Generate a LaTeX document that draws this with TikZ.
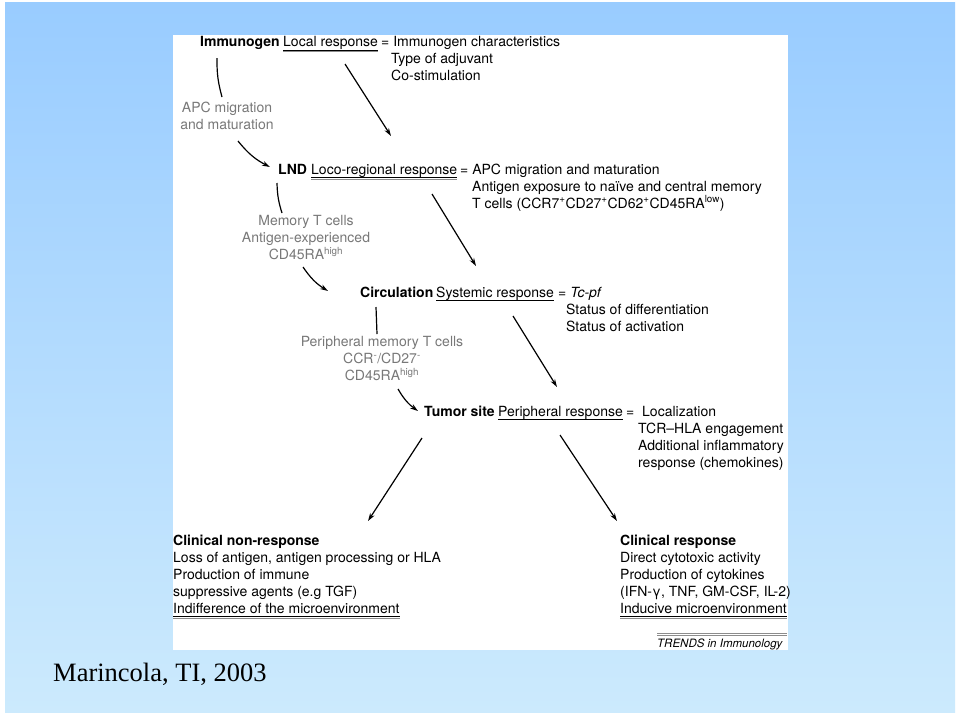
\documentclass[tikz,border=0pt]{standalone}
\usepackage{fontspec}
\setmainfont{TeX Gyre Heros}
\newfontfamily\timesfont{Liberation Serif}
\usetikzlibrary{arrows.meta}
\definecolor{bgtop}{RGB}{153,204,255}
\definecolor{bgbot}{RGB}{204,234,253}
\definecolor{softgrey}{RGB}{120,120,120}
\definecolor{linegrey}{RGB}{140,140,140}

\begin{document}
\begin{tikzpicture}[x=1pt,y=-1pt,
  txt/.style={anchor=base west,inner sep=0pt,font=\fontsize{14}{17}\selectfont},
  hd/.style={txt,font=\fontsize{14}{17}\selectfont\bfseries},
  grey/.style={inner sep=0pt,align=center,text=softgrey,font=\fontsize{14}{17}\selectfont},
  arr/.style={line width=1.2pt,-{Stealth[length=8pt,width=5pt]}},
  ln/.style={line width=1.2pt}]
        \useasboundingbox (0,0) rectangle (960,716);
        \fill[white] (0,0) rectangle (960,716);
        \shade[top color=bgtop,bottom color=bgbot] (5,2) rectangle (955,712);
        \fill[white] (173,35) rectangle (788,650);

        \node at (200,46.5) [hd] (immunogen) {Immunogen};
        \node at (283,46.5) [txt] (local) {Local response};
        \node at (381,46.5) [txt] (localeq) {= Immunogen characteristics};
        \node at (391,63.5) [txt] (adjuvant) {Type of adjuvant};
        \node at (391,80.5) [txt] (costim) {Co-stimulation};
        \draw[line width=0.7pt] ([yshift=-3.5pt]local.base west) -- ([yshift=-3.5pt]local.base east);
        \draw[line width=0.7pt,linegrey] ([yshift=-5.3pt]local.base west) -- ([yshift=-5.3pt]local.base east);

        \node at (227,116) [grey] (apc) {APC migration\\and maturation};

        \node at (278,174) [hd] (lnd) {LND};
        \node at (311,174) [txt] (loco) {Loco-regional response};
        \node at (460,174) [txt] (locoeq) {= APC migration and maturation};
        \node at (472,191) [txt] (exposure) {Antigen exposure to naïve and central memory};
        \node at (472,208) [txt] (tcells) {T cells (CCR7\textsuperscript{+}CD27\textsuperscript{+}CD62\textsuperscript{+}CD45RA\textsuperscript{low})};
        \draw[line width=0.7pt] ([yshift=-3.5pt]loco.base west) -- ([yshift=-3.5pt]loco.base east);
        \draw[line width=0.7pt,linegrey] ([yshift=-5.3pt]loco.base west) -- ([yshift=-5.3pt]loco.base east);

        \node at (306,238) [grey] (memory) {Memory T cells\\Antigen-experienced\\CD45RA\textsuperscript{high}};

        \node at (360,297) [hd] (circ) {Circulation};
        \node at (436,297) [txt] (systemic) {Systemic response};
        \node at (558,297) [txt] (systemiceq) {= \textit{Tc-pf}};
        \node at (566,314) [txt] (differ) {Status of differentiation};
        \node at (566,331) [txt] (activ) {Status of activation};
        \draw[line width=0.9pt] ([yshift=-3.5pt]systemic.base west) -- ([yshift=-3.5pt]systemic.base east);

        \node at (382,359) [grey] (periph) {Peripheral memory T cells\\CCR\textsuperscript{-}/CD27\textsuperscript{-}\\CD45RA\textsuperscript{high}};

        \node at (424,416) [hd] (tumor) {Tumor site};
        \node at (498,416) [txt] (peripheral) {Peripheral response};
        \node at (626,416) [txt] (periphq) {=};
        \node at (642,416) [txt] (local2) {Localization};
        \node at (638,433) [txt] (tcr) {TCR--HLA engagement};
        \node at (638,450) [txt] (addit) {Additional inflammatory};
        \node at (638,467) [txt] (chemo) {response (chemokines)};
        \draw[line width=0.9pt] ([yshift=-3.5pt]peripheral.base west) -- ([yshift=-3.5pt]peripheral.base east);

        \node at (173,545) [hd] (nonresp) {Clinical non-response};
        \node at (173,562) [txt] (loss) {Loss of antigen, antigen processing or HLA};
        \node at (173,579) [txt] (prodimm) {Production of immune};
        \node at (173,596) [txt] (suppr) {suppressive agents (e.g TGF)};
        \node at (173,613) [txt] (indiff) {Indifference of the microenvironment};
        \draw[line width=0.7pt] ([yshift=-3.5pt]indiff.base west) -- ([yshift=-3.5pt]indiff.base east);
        \draw[line width=0.7pt,linegrey] ([yshift=-5.3pt]indiff.base west) -- ([yshift=-5.3pt]indiff.base east);

        \node at (620,545) [hd] (resp) {Clinical response};
        \node at (620,562) [txt] (direct) {Direct cytotoxic activity};
        \node at (620,579) [txt] (prodcyt) {Production of cytokines};
        \node at (620,596) [txt] (ifn) {(IFN-γ, TNF, GM-CSF, IL-2)};
        \node at (620,613) [txt] (inducive) {Inducive microenvironment};
        \draw[line width=0.7pt] ([yshift=-3.5pt]inducive.base west) -- ([yshift=-3.5pt]inducive.base east);
        \draw[line width=0.7pt,linegrey] ([yshift=-5.3pt]inducive.base west) -- ([yshift=-5.3pt]inducive.base east);

        \node at (657,647) [txt,font=\fontsize{11.5}{14}\selectfont\itshape] (trends) {TRENDS in Immunology};
        \draw[line width=0.7pt,linegrey] (657,633) -- (787,633);
        \draw[line width=0.7pt,linegrey] (657,635) -- (787,635);

        \node at (53,681) [anchor=base west,inner sep=0pt,font=\timesfont\fontsize{26.5}{30}\selectfont] (cite) {Marincola, TI, 2003};

        \coordinate (imm-a) at (217,58);
        \coordinate (imm-b) at (222,97);
        \coordinate (apc-a) at (238,141);
        \coordinate (lnd-w) at (270,167);
        \coordinate (loc-a) at (345,64);
        \coordinate (loc-b) at (391,136);
        \draw[ln] (imm-a) to[bend right=8] (imm-b);
        \draw[arr] (apc-a) to[bend right=12] (lnd-w);
        \draw[arr] (loc-a) -- (loc-b);

        \coordinate (lnd-a) at (277,183);
        \coordinate (lnd-b) at (282,213);
        \coordinate (mem-a) at (303,267);
        \coordinate (circ-w) at (328,291);
        \coordinate (loco-a) at (432,194);
        \coordinate (loco-b) at (476,266);
        \draw[ln] (lnd-a) to[bend right=8] (lnd-b);
        \draw[arr] (mem-a) to[bend right=12] (circ-w);
        \draw[arr] (loco-a) -- (loco-b);

        \coordinate (circ-a) at (376,307);
        \coordinate (circ-b) at (377,334);
        \coordinate (per-a) at (398,389);
        \coordinate (tum-w) at (418,411);
        \coordinate (sys-a) at (513,316);
        \coordinate (sys-b) at (557,387);
        \draw[ln] (circ-a) -- (circ-b);
        \draw[arr] (per-a) to[bend right=12] (tum-w);
        \draw[arr] (sys-a) -- (sys-b);

        \coordinate (tum-a) at (422,438);
        \coordinate (non-n) at (368,521);
        \coordinate (tum-b) at (560,435);
        \coordinate (res-n) at (617,521);
        \draw[arr] (tum-a) -- (non-n);
        \draw[arr] (tum-b) -- (res-n);
\end{tikzpicture}
\end{document}
